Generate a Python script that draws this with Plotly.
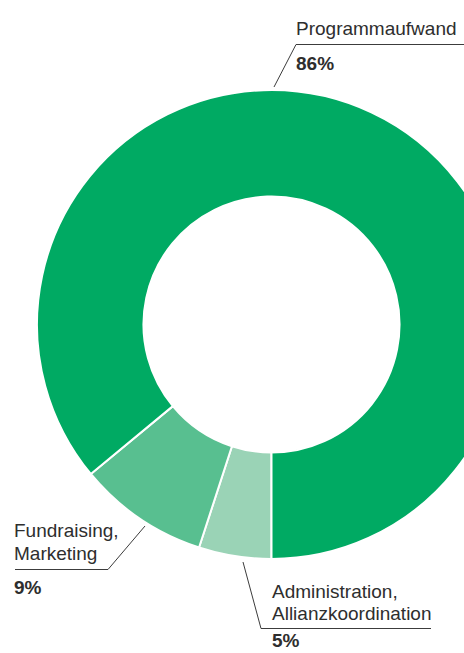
import plotly.graph_objects as go

# Data
categories = ["Administration,<br>Allianzkoordination", "Fundraising,<br>Marketing", "Programmaufwand"]
values = [5, 9, 86]
colors = ["#9AD3B6", "#58BF90", "#00AA63"]

W, H = 543, 653
ML, MR, MT, MB = 0, 0, 90, 94
PW, PH = W - ML - MR, H - MT - MB


def px(x):
    return (x - ML) / PW


def py(y):
    return (H - MB - y) / PH


fig = go.Figure(go.Pie(
    labels=categories,
    values=values,
    hole=0.546,
    sort=False,
    direction="clockwise",
    rotation=180,
    marker=dict(colors=colors, line=dict(color="white", width=2)),
    textinfo="none",
    hoverinfo="skip",
    showlegend=False,
    domain=dict(x=[0, 1], y=[0, 1]),
))

LINE = dict(color="#3c3c3c", width=1)
shapes = [
    # Programmaufwand
    dict(type="line", x0=px(274), y0=py(87), x1=px(296), y1=py(44.5)),
    dict(type="line", x0=px(296), y0=py(44.5), x1=px(480), y1=py(44.5)),
    # Fundraising
    dict(type="line", x0=px(145), y0=py(526), x1=px(108), y1=py(569.5)),
    dict(type="line", x0=px(108), y0=py(569.5), x1=px(15), y1=py(569.5)),
    # Administration
    dict(type="line", x0=px(243), y0=py(562), x1=px(261), y1=py(628.5)),
    dict(type="line", x0=px(261), y0=py(628.5), x1=px(431), y1=py(628.5)),
]
for s in shapes:
    s.update(xref="paper", yref="paper", line=LINE, layer="above")

FONT = "Liberation Sans, Arial, sans-serif"
TXT = "#2e2e2e"
FS = 19


def label(x, y, text, bold=False):
    return dict(
        x=px(x), y=py(y), xref="paper", yref="paper",
        text=f"<b>{text}</b>" if bold else text,
        showarrow=False, xanchor="left", yanchor="middle",
        font=dict(family=FONT, size=FS, color=TXT),
    )


annotations = [
    label(294, 28, "Programmaufwand"),
    label(294, 63, "86%", bold=True),
    label(12, 530, "Fundraising,"),
    label(12, 553, "Marketing"),
    label(12, 587.5, "9%", bold=True),
    label(270, 591, "Administration,"),
    label(270, 613, "Allianzkoordination"),
    label(270, 640, "5%", bold=True),
]

fig.update_layout(
    width=W, height=H,
    margin=dict(l=ML, r=MR, t=MT, b=MB, pad=0),
    paper_bgcolor="white",
    plot_bgcolor="white",
    shapes=shapes,
    annotations=annotations,
)

fig.write_html(
    "out.html",
    config=dict(displayModeBar=False),
    post_script=(
        "document.body.style.margin='0';"
        "document.body.style.overflow='hidden';"
        "document.documentElement.style.overflow='hidden';"
    ),
)
